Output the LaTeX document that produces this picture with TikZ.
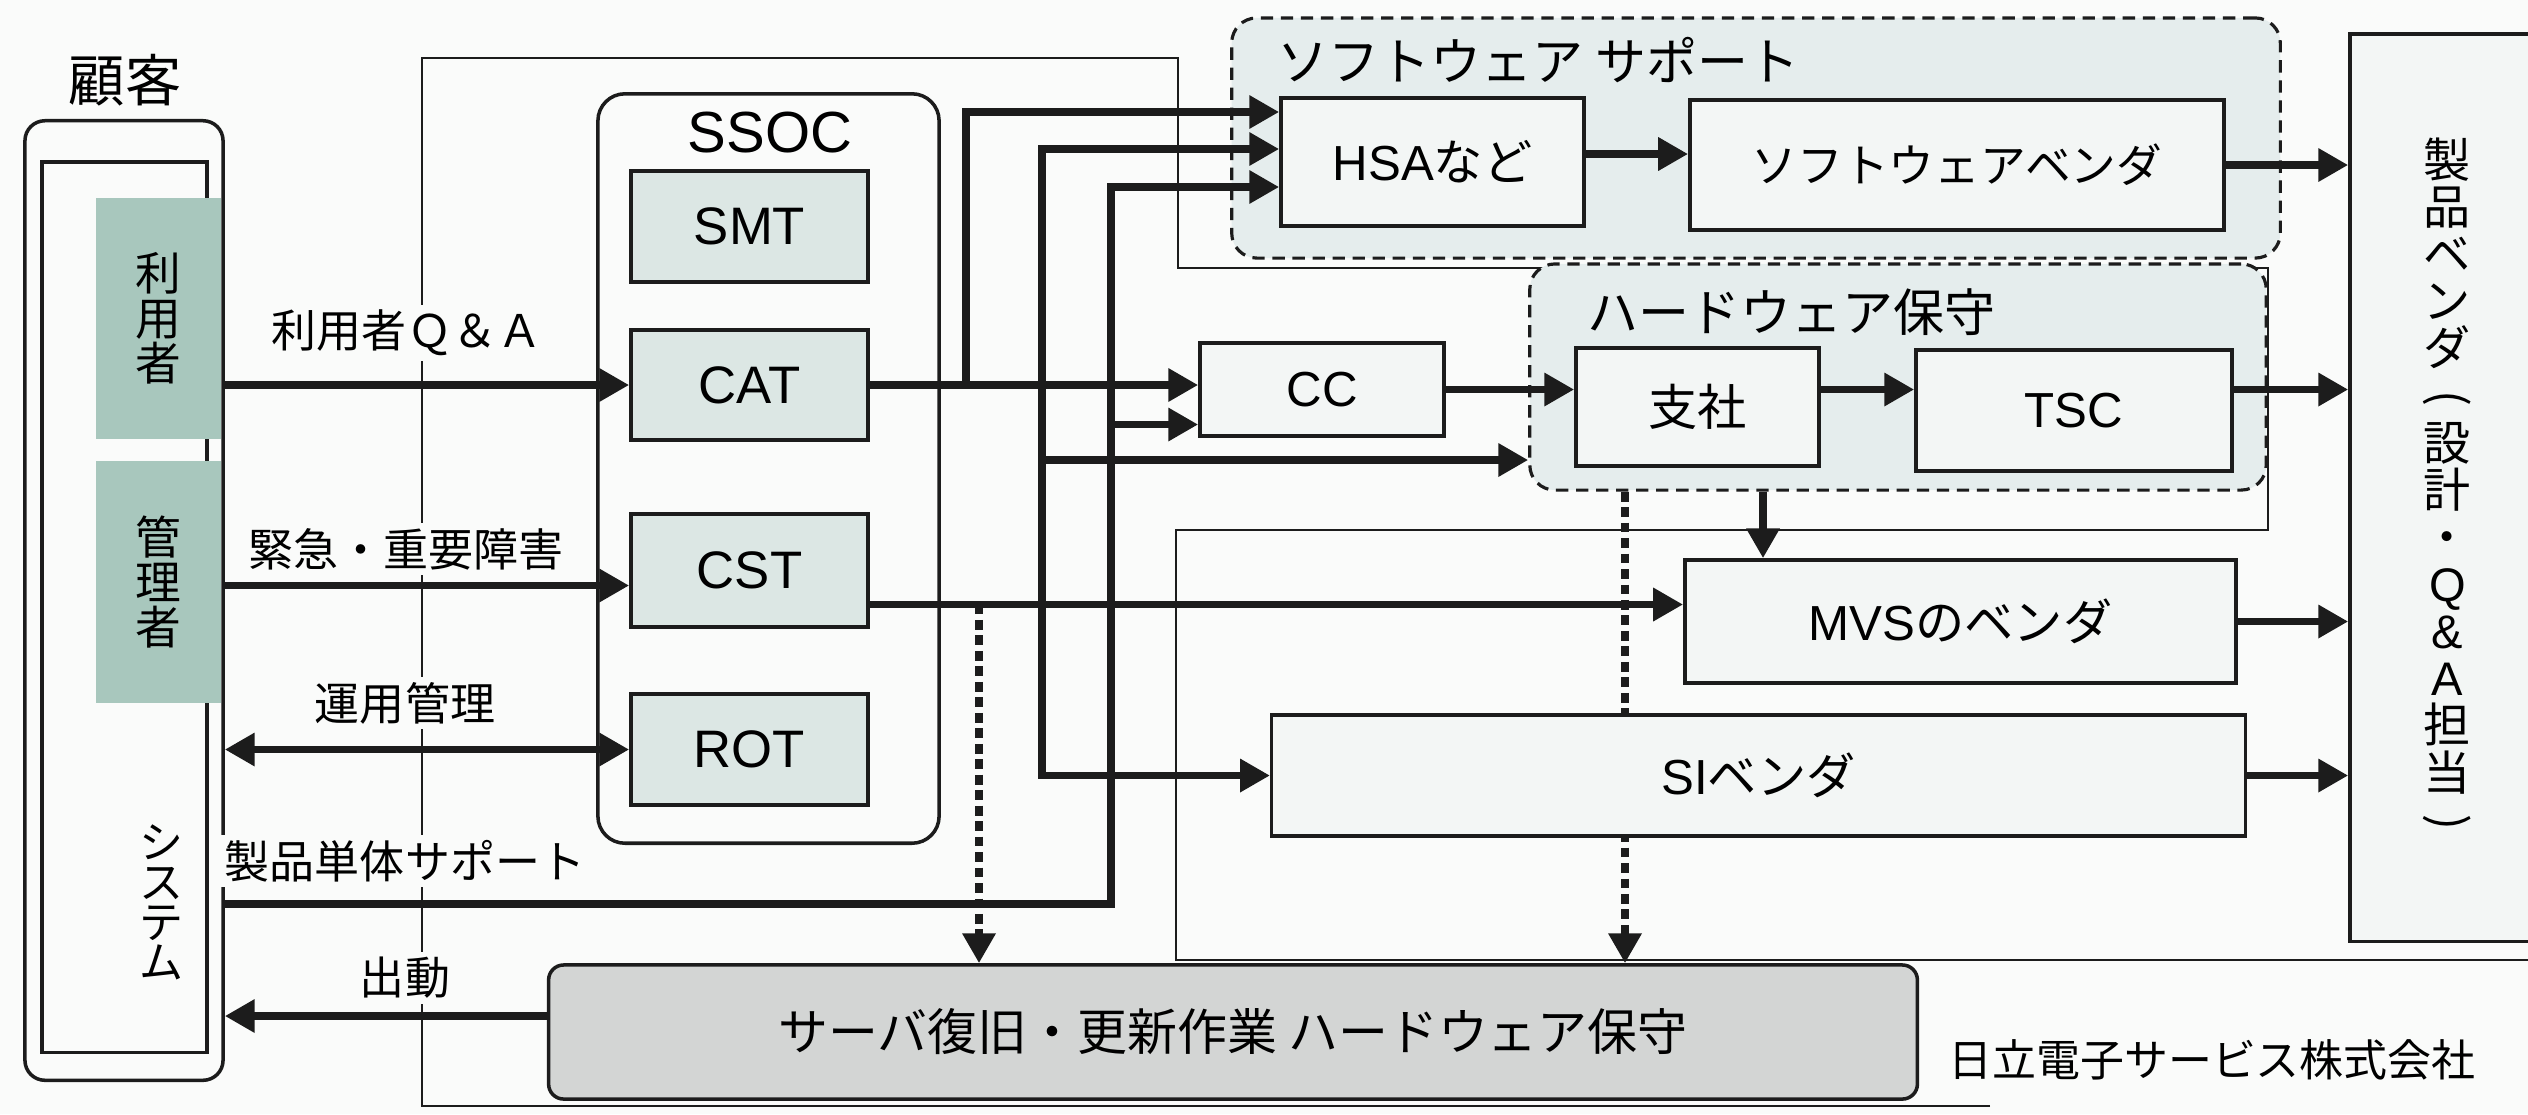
\documentclass[tikz,border=0pt]{standalone}
\usepackage{graphicx}
\usepackage{fontspec}
\setmainfont{Noto Sans CJK JP}
\newfontfamily\lat{Liberation Sans}
\usetikzlibrary{arrows.meta,calc}
\definecolor{bgc}{HTML}{FAFBFA}
\definecolor{lc}{HTML}{1C1C1C}
\definecolor{tealc}{HTML}{A8C7BD}
\definecolor{ssocf}{HTML}{DCE7E4}
\definecolor{grpf}{HTML}{E5EDED}
\definecolor{boxf}{HTML}{F3F6F5}
\definecolor{grayf}{HTML}{D3D5D4}
\newcommand\myfs[2]{\fontsize{#1}{#2}\selectfont}
\newcommand\vparen[1]{\rotatebox[origin=c]{-90}{#1}}
\begin{document}
\begin{tikzpicture}[x=0.01cm, y=-0.01cm,
  >={Triangle[length=8.5pt,width=9pt]},
  conn/.style={draw=lc, line width=2.2pt, ->},
  dconn/.style={conn, dash pattern=on 2.8pt off 1.6pt},
  bline/.style={draw=lc, line width=0.8pt},
  pbox/.style={draw=lc, line width=1pt, fill=boxf, inner sep=0pt, font=\myfs{14pt}{16pt}},
  sbox/.style={pbox, fill=ssocf, font=\lat\myfs{15pt}{17pt}},
  gbox/.style={draw=lc, line width=0.9pt, dash pattern=on 3.5pt off 2.2pt, rounded corners=0.25cm, fill=grpf, inner sep=0pt},
  lbl/.style={fill=bgc, inner sep=1.5pt, font=\myfs{12.8pt}{15pt}},
  vtext/.style={align=center, inner sep=0pt},
  tealbox/.style={fill=tealc, inner sep=0pt, align=center, font=\myfs{13pt}{12.8pt}},
]
\useasboundingbox (0,0) rectangle (2528,1114);
\fill[bgc] (0,0) rectangle (2528,1114);

% company boundary
\draw[bline] (1990,1106) -- (422,1106) -- (422,58) -- (1178,58) -- (1178,268) -- (2268,268) -- (2268,530) -- (1176,530) -- (1176,960) -- (2528,960);

% customer
\node[font=\myfs{16pt}{18pt}] (kokyaku) at (125,80) {顧客};
\node[draw=lc, line width=1pt, fill=bgc, rounded corners=0.2cm, minimum width=1.98cm, minimum height=9.59cm, inner sep=0pt] (cust) at (124,600.5) {};
\node[draw=lc, line width=1pt, minimum width=1.65cm, minimum height=8.90cm, inner sep=0pt] (custin) at (124.5,607) {};
\node[tealbox, minimum width=1.25cm, minimum height=2.41cm] (user) at (158.5,318.5) {利\\用\\者};
\node[tealbox, minimum width=1.25cm, minimum height=2.42cm] (admin) at (158.5,582) {管\\理\\者};
\node[vtext, font=\myfs{12.5pt}{11.4pt}] (sys) at (161,902) {シ\\ス\\テ\\ム};

% SSOC
\node[draw=lc, line width=1pt, fill=bgc, rounded corners=0.27cm, minimum width=3.41cm, minimum height=7.49cm, inner sep=0pt] (ssoc) at (768.5,468.5) {};
\node[font=\lat\myfs{16.5pt}{18pt}] (ssoct) at (770,133) {SSOC};
\node[sbox, minimum width=2.37cm, minimum height=1.11cm] (smt) at (749.5,226.5) {SMT};
\node[sbox, minimum width=2.37cm, minimum height=1.10cm] (cat) at (749.5,385) {CAT};
\node[sbox, minimum width=2.37cm, minimum height=1.13cm] (cst) at (749.5,570.5) {CST};
\node[sbox, minimum width=2.37cm, minimum height=1.11cm] (rot) at (749.5,749.5) {ROT};

% groups
\node[gbox, minimum width=10.48cm, minimum height=2.40cm] (swg) at (1756,138) {};
\node[anchor=west, font=\myfs{14.5pt}{16pt}, inner sep=0pt] (swgt) at (1277,60) {ソフトウェア サポート};
\node[gbox, minimum width=7.36cm, minimum height=2.26cm] (hwg) at (1898,377) {};
\node[anchor=west, font=\myfs{14.5pt}{16pt}, inner sep=0pt] (hwgt) at (1587,312) {ハードウェア保守};

% field work box
\node[draw=lc, line width=1pt, fill=grayf, rounded corners=0.15cm, minimum width=13.68cm, minimum height=1.34cm, inner sep=0pt, font=\myfs{14.2pt}{16pt}] (gray) at (1233,1032) {サーバ復旧・更新作業 ハードウェア保守};

% dotted connectors
\coordinate (cstout) at ($(cst.east)+(0,34)$);
\coordinate (v5) at (979,0);
\coordinate (v6) at (1625,0);
\draw[dconn] (v5 |- cstout) -- (v5 |- gray.north);
\draw[dconn] (v6 |- hwg.south) -- (v6 |- gray.north);

% boxes
\node[pbox, minimum width=3.03cm, minimum height=1.28cm] (hsa) at (1432.5,162) {{\lat HSA}など};
\node[pbox, minimum width=5.34cm, minimum height=1.30cm, font=\myfs{13pt}{15pt}] (swv) at (1957,165) {ソフトウェアベンダ};
\node[pbox, minimum width=2.44cm, minimum height=0.93cm, font=\lat\myfs{14pt}{16pt}] (cc) at (1322,389.5) {CC};
\node[pbox, minimum width=2.43cm, minimum height=1.18cm] (shisha) at (1697.5,407) {支社};
\node[pbox, minimum width=3.16cm, minimum height=1.21cm, font=\lat\myfs{14pt}{16pt}] (tsc) at (2074,410.5) {TSC};
\node[pbox, minimum width=5.51cm, minimum height=1.23cm] (mvs) at (1960.5,621.5) {{\lat MVS}のベンダ};
\node[pbox, minimum width=9.73cm, minimum height=1.21cm] (si) at (1758.5,775.5) {{\lat SI}ベンダ};
\node[pbox, minimum width=1.95cm, minimum height=9.07cm, align=center, font=\myfs{13.4pt}{13.4pt}] (pv) at (2447.5,487.5) {製\\品\\ベ\\ン\\ダ\\\vparen{(}\\設\\計\\・\\{\lat Q}\\{\lat\&}\\{\lat A}\\担\\当\\\vparen{)}};

% coordinates
\coordinate (hsa1) at ($(hsa.west)+(0,-50)$);
\coordinate (hsa2) at ($(hsa.west)+(0,-13)$);
\coordinate (hsa3) at ($(hsa.west)+(0,25)$);
\coordinate (v1) at (966,0);
\coordinate (v2) at (1042,0);
\coordinate (v3) at (1111,0);
\coordinate (v4) at (1763,0);
\coordinate (sysout) at (223,904);
\coordinate (cstin) at ($(cst.west)+(0,15)$);
\coordinate (ccin2) at ($(cc.west)+(0,35)$);
\coordinate (hwin) at ($(hwg.west)+(0,83)$);
\coordinate (grayout) at ($(gray.west)+(0,-16)$);
\coordinate (hsaout) at ($(hsa.east)+(0,-8)$);

% connectors
\draw[conn] (cust.east |- cat.west) -- (cat.west);
\draw[conn] (cust.east |- cstin) -- (cstin);
\draw[conn, <->] (cust.east |- rot.west) -- (rot.west);
\draw[conn] (sysout) -| (v3 |- hsa3) -- (hsa3);
\draw[conn] (v3 |- ccin2) -- (ccin2);
\draw[conn] (cat.east) -- (cc.west |- cat.east);
\draw[conn] (v1 |- cat.east) |- (hsa1);
\draw[conn] (cstout) -- (mvs.west |- cstout);
\draw[conn] (v2 |- cstout) |- (hsa2);
\draw[conn] (v2 |- cstout) |- (si.west);
\draw[conn] (v2 |- hwin) -- (hwin);
\draw[conn] (hsaout) -- (swv.west |- hsaout);
\draw[conn] (swv.east) -- (pv.west |- swv.east);
\draw[conn] (cc.east) -- (shisha.west |- cc.east);
\draw[conn] (shisha.east |- cc.east) -- (tsc.west |- cc.east);
\draw[conn] (tsc.east |- cc.east) -- (pv.west |- cc.east);
\draw[conn] (v4 |- hwg.south) -- (v4 |- mvs.north);
\draw[conn] (mvs.east) -- (pv.west |- mvs.east);
\draw[conn] (si.east) -- (pv.west |- si.east);
\draw[conn] (grayout) -- (cust.east |- grayout);

% labels
\node[lbl] (lqa) at (407,333) {利用者Ｑ＆Ａ};
\node[lbl] (lkk) at (406,549) {緊急・重要障害};
\node[lbl] (lun) at (405,703) {運用管理};
\node[lbl] (lsp) at (405,861) {製品単体サポート};
\node[lbl] (lsd) at (405,978) {出動};
\node[font=\myfs{12.5pt}{14pt}] (comp) at (2212,1060) {日立電子サービス株式会社};
\end{tikzpicture}
\end{document}
